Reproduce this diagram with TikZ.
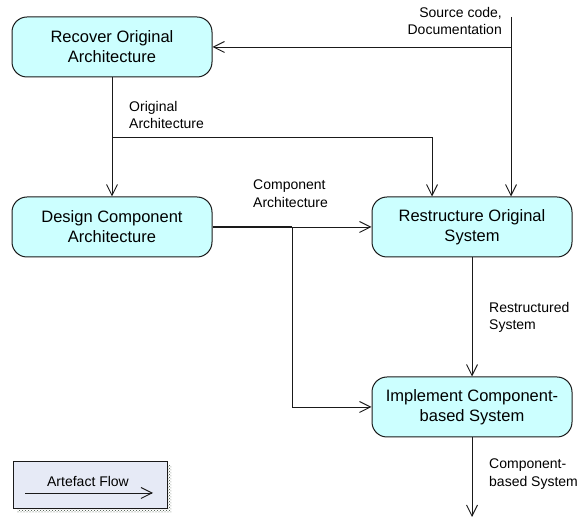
\documentclass[tikz,border=0pt]{standalone}
\usepackage{fontspec}
\setmainfont{Liberation Sans}
\usetikzlibrary{arrows.meta,patterns}
\definecolor{activityfill}{HTML}{CCFFFF}
\definecolor{legendfill}{HTML}{E6EAF6}
\definecolor{linecol}{HTML}{1A1A1A}
\definecolor{shadowcol}{HTML}{3A4A3A}

\begin{document}
\begin{tikzpicture}[x=1pt,y=-1pt,
  activity/.style={draw=linecol, line width=1pt, fill=activityfill,
    rounded corners=15pt, minimum width=200pt, minimum height=60pt,
    align=center, inner sep=0pt, font=\fontsize{16.5}{20}\selectfont},
  flow/.style={draw=linecol, line width=0.9pt,
    -{Straight Barb[length=11pt,width=11pt,line width=0.9pt]}},
  plain/.style={draw=linecol, line width=0.9pt},
  lbl/.style={inner sep=0pt, font=\fontsize{14}{17.5}\selectfont}]
\useasboundingbox (0,0) rectangle (582,518);

% activities
\node[activity] (recover) at (112,47) {Recover Original\\Architecture};
\node[activity] (design) at (112,227) {Design Component\\Architecture};
\node[activity] (restruct) at (472,227) {Restructure Original\\System};
\node[activity] (impl) at (472,407) {Implement Component-\\based System};

% inputs and branch points
\coordinate (src) at (511,17);
\coordinate (oa) at (112,137);
\coordinate (ca) at (292,227);
\coordinate (out) at (472,517);

% source code / documentation feed
\draw[flow] (src) -- (src |- restruct.north);
\draw[flow] (src |- recover.east) -- (recover.east);

% original architecture
\draw[flow] (recover.south) -- (design.north);
\draw[flow] (oa) -| ([xshift=-40pt]restruct.north);

% component architecture
\draw[plain, line width=1.8pt] (design.east) -- (ca);
\draw[flow] (ca) -- (restruct.west);
\draw[flow] (ca) |- (impl.west);

% restructured and final system
\draw[flow] (restruct.south) -- (impl.north);
\draw[flow] (impl.south) -- (out);

% flow labels
\node[lbl, anchor=north east, align=right] (lsrc) at (502,7) {Source code,\\Documentation};
\node[lbl, anchor=north west, align=left] (loa) at (129,101) {Original\\Architecture};
\node[lbl, anchor=north west, align=left] (lca) at (253,180) {Component\\Architecture};
\node[lbl, anchor=north west, align=left] (lrs) at (489,302) {Restructured\\System};
\node[lbl, anchor=north west, align=left] (lcb) at (489,459) {Component-\\based System};

% legend with dotted drop shadow
\fill[pattern=crosshatch dots, pattern color=shadowcol] (17,466) rectangle (171,513);
\node[draw=linecol, line width=1pt, fill=legendfill, minimum width=154pt,
  minimum height=47pt, inner sep=0pt] (legend) at (90,485.5) {};
\node[lbl] (legendtext) at (88,481) {Artefact Flow};
\coordinate (la) at (25,493);
\coordinate (lb) at (153,493);
\draw[flow] (la) -- (lb);
\end{tikzpicture}
\end{document}
